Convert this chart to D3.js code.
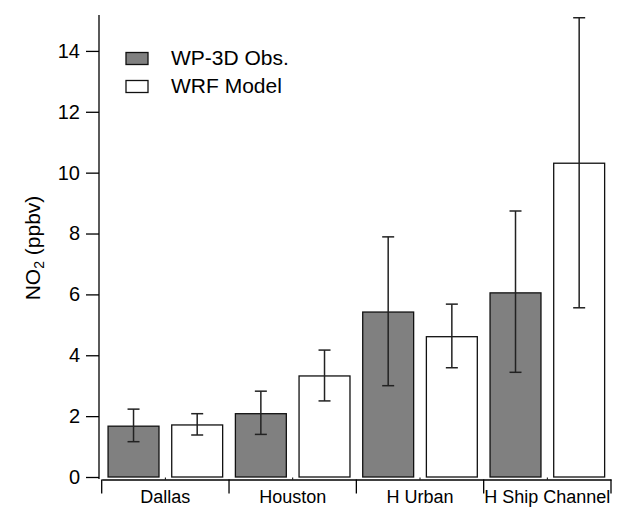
<!DOCTYPE html>
<html>
<head>
<meta charset="utf-8">
<script src="https://cdn.jsdelivr.net/npm/d3@7"></script>
<style>
  body { margin: 0; background: #fff; }
  text { font-family: "Liberation Sans", Arial, sans-serif; fill: #000; }
</style>
</head>
<body>
<div id="graph"></div>
<script>
// data
const categories = ["Dallas", "Houston", "H Urban", "H Ship Channel"];
const seriesNames = ["WP-3D Obs.", "WRF Model"];
const obs = [1.67, 2.08, 5.42, 6.05];
const obsLow = [1.16, 1.40, 3.00, 3.44];
const obsHigh = [2.23, 2.82, 7.89, 8.74];
const model = [1.71, 3.32, 4.61, 10.31];
const modelLow = [1.38, 2.50, 3.59, 5.56];
const modelHigh = [2.08, 4.17, 5.68, 15.09];
const yTicks = [0, 2, 4, 6, 8, 10, 12, 14];

let width = 626;
let height = 507;

let svg = d3.select("#graph").append("svg").attr("width", width).attr("height", height);

// scales
let y = d3.scaleLinear().domain([0, 15.18]).range([477, 15]);
let x0 = d3.scaleBand().domain(categories).range([101.7, 611]).padding(0);
let x1 = d3.scaleBand().domain(seriesNames).range([0, x0.bandwidth()])
  .paddingInner(0.2).paddingOuter(0.1);
let color = d3.scaleOrdinal().domain(seriesNames).range(["#808080", "#ffffff"]);

// table for drawing
let dataset = [];
categories.forEach(function(c, i) {
  dataset.push({ cat: c, series: seriesNames[0], value: obs[i], lo: obsLow[i], hi: obsHigh[i] });
  dataset.push({ cat: c, series: seriesNames[1], value: model[i], lo: modelLow[i], hi: modelHigh[i] });
});

// y axis
let yAxis = d3.axisLeft(y).tickValues(yTicks).tickSize(13).tickPadding(6).tickSizeOuter(0);
let gy = svg.append("g").attr("transform", "translate(99,0)").call(yAxis);
gy.select(".domain").attr("stroke", "#000").attr("stroke-width", 1.3)
  .attr("d", "M0," + y.range()[1] + "V479");
gy.selectAll(".tick line").attr("stroke", "#000").attr("stroke-width", 1.3);
gy.selectAll(".tick text").attr("font-size", "20px").attr("font-family", "Liberation Sans, Arial, sans-serif");

// y label
svg.append("text")
  .attr("transform", "translate(40,248) rotate(-90)")
  .attr("text-anchor", "middle")
  .attr("font-size", "21px")
  .html('NO<tspan font-size="14px" dy="4">2</tspan><tspan dy="-4"> (ppbv)</tspan>');

// bars
let groups = svg.selectAll(".bar")
  .data(dataset)
  .enter()
  .append("g")
  .attr("class", "bar");

groups.append("rect")
  .attr("x", function(d) { return x0(d.cat) + x1(d.series); })
  .attr("y", function(d) { return y(d.value); })
  .attr("width", x1.bandwidth())
  .attr("height", function(d) { return y(0) - y(d.value); })
  .attr("fill", function(d) { return color(d.series); })
  .attr("stroke", "#111")
  .attr("stroke-width", 1.3);

// error bars
let cap = 6;
groups.append("line")
  .attr("x1", function(d) { return x0(d.cat) + x1(d.series) + x1.bandwidth() / 2; })
  .attr("x2", function(d) { return x0(d.cat) + x1(d.series) + x1.bandwidth() / 2; })
  .attr("y1", function(d) { return y(d.lo); })
  .attr("y2", function(d) { return y(d.hi); })
  .attr("stroke", "#222").attr("stroke-width", 1.5);
groups.selectAll(".cap")
  .data(function(d) { return [d.lo, d.hi].map(function(v) { return { d: d, v: v }; }); })
  .enter()
  .append("line")
  .attr("class", "cap")
  .attr("x1", function(e) { return x0(e.d.cat) + x1(e.d.series) + x1.bandwidth() / 2 - cap; })
  .attr("x2", function(e) { return x0(e.d.cat) + x1(e.d.series) + x1.bandwidth() / 2 + cap; })
  .attr("y1", function(e) { return y(e.v); })
  .attr("y2", function(e) { return y(e.v); })
  .attr("stroke", "#222").attr("stroke-width", 1.5);

// category axis (offset below the bars)
let xAxis = d3.axisBottom(x0).tickSize(0).tickPadding(0).tickSizeOuter(0);
let gx = svg.append("g").attr("transform", "translate(0,479.5)").call(xAxis);
gx.select(".domain").attr("stroke", "#000").attr("stroke-width", 1.3);
gx.selectAll(".tick text").attr("font-size", "18px")
  .attr("font-family", "Liberation Sans, Arial, sans-serif")
  .attr("dy", null).attr("y", 23);
// separators between categories
let edges = categories.map(function(c) { return x0(c); }).concat([x0.range()[1]]);
gx.selectAll(".sep")
  .data(edges)
  .enter()
  .append("line")
  .attr("class", "sep")
  .attr("x1", function(d) { return d; })
  .attr("x2", function(d) { return d; })
  .attr("y1", 0).attr("y2", 14)
  .attr("stroke", "#000").attr("stroke-width", 1.3);
gx.selectAll(".minor")
  .data(categories)
  .enter()
  .append("line")
  .attr("class", "minor")
  .attr("x1", function(d) { return x0(d) + x0.bandwidth() / 2; })
  .attr("x2", function(d) { return x0(d) + x0.bandwidth() / 2; })
  .attr("y1", -2).attr("y2", 0)
  .attr("stroke", "#000").attr("stroke-width", 1);

// legend
let legend = svg.selectAll(".legend")
  .data(seriesNames)
  .enter()
  .append("g")
  .attr("class", "legend")
  .attr("transform", function(d, i) { return "translate(126," + (52.5 + i * 28) + ")"; });
legend.append("rect")
  .attr("width", 22).attr("height", 12)
  .attr("fill", function(d) { return color(d); })
  .attr("stroke", "#111").attr("stroke-width", 1.3);
legend.append("text")
  .attr("x", 45).attr("y", 12.5)
  .attr("font-size", "21px")
  .text(function(d) { return d; });
</script>
</body>
</html>
